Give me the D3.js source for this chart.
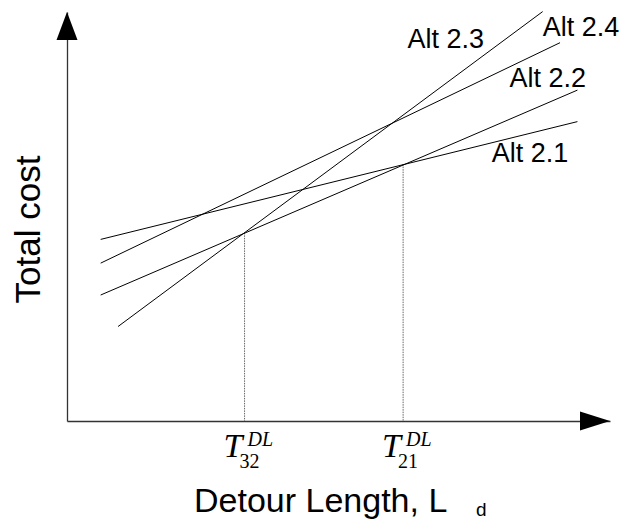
<!DOCTYPE html>
<html>
<head>
<meta charset="utf-8">
<script src="https://cdn.jsdelivr.net/npm/d3@7"></script>
<style>
  html, body { margin: 0; padding: 0; background: #fff; }
  svg { display: block; }
</style>
</head>
<body>
<svg id="chart" width="622" height="521"></svg>
<script>
// ---- data (abstract units: x = detour length, y = total cost, both 0-100) ----
const alternatives = ["Alt 2.1", "Alt 2.2", "Alt 2.3", "Alt 2.4"];
const startX = [6.2, 6.2, 9.4, 6.2];
const startY = [44.4, 30.8, 23.1, 38.6];
const endX   = [94.0, 94.0, 87.6, 90.8];
const endY   = [73.2, 80.9, 100.1, 92.5];

// label anchor (text start, baseline) in data units
const labelX = [78.2, 81.5, 62.7, 87.6];
const labelY = [63.4, 81.6, 91.3, 94.1];

// threshold points (intersections)
const thresholdNames = ["32", "21"];
const thresholdX = [32.7, 61.9];
const thresholdY = [46.0, 62.8];

const xTitle = "Detour Length, L";
const xTitleSub = "d";
const yTitle = "Total cost";

// ---- layout ----
const svg = d3.select("#chart");
const x = d3.scaleLinear().domain([0, 100]).range([67, 610]);
const y = d3.scaleLinear().domain([0, 100]).range([421, 12]);

// axes (no ticks)
svg.append("g")
  .attr("transform", `translate(0,${y(0)})`)
  .call(d3.axisBottom(x).tickValues([]).tickSizeOuter(0))
  .call(g => g.select(".domain").attr("stroke", "#333").attr("stroke-width", 1.3));
svg.append("g")
  .attr("transform", `translate(${x(0)},0)`)
  .call(d3.axisLeft(y).tickValues([]).tickSizeOuter(0))
  .call(g => g.select(".domain").attr("stroke", "#333").attr("stroke-width", 1.3));

// arrowheads
const x0 = x(0), y0 = y(0), xEnd = x(100), yEnd = y(100);
svg.append("path")
  .attr("d", `M${x0},${yEnd} L${x0 - 10.5},${yEnd + 28} L${x0 + 10.5},${yEnd + 28} Z`)
  .attr("fill", "#000");
svg.append("path")
  .attr("d", `M${xEnd},${y0} L${xEnd - 30},${y0 - 9.5} L${xEnd - 30},${y0 + 9.5} Z`)
  .attr("fill", "#000");

// threshold dotted lines
svg.append("g").selectAll("line")
  .data(thresholdX)
  .join("line")
  .attr("x1", d => x(d)).attr("x2", d => x(d))
  .attr("y1", (d, i) => y(thresholdY[i]))
  .attr("y2", y(0))
  .attr("stroke", "#666")
  .attr("stroke-width", 1)
  .attr("stroke-dasharray", "1.5,1");

// cost lines
const lineGen = d3.line().x(d => x(d[0])).y(d => y(d[1]));
svg.append("g").selectAll("path")
  .data(alternatives.map((a, i) => [[startX[i], startY[i]], [endX[i], endY[i]]]))
  .join("path")
  .attr("d", lineGen)
  .attr("fill", "none")
  .attr("stroke", "#000")
  .attr("stroke-width", 1);

// line labels
svg.append("g").selectAll("text")
  .data(alternatives)
  .join("text")
  .attr("x", (d, i) => x(labelX[i]))
  .attr("y", (d, i) => y(labelY[i]))
  .attr("font-family", "'Liberation Sans', Arial, sans-serif")
  .attr("font-size", 27)
  .attr("fill", "#000")
  .text(d => d);

// threshold labels T^{DL}_{ij}
const tl = svg.append("g").selectAll("g")
  .data(thresholdNames)
  .join("g")
  .attr("transform", (d, i) => `translate(${x(thresholdX[i]) - 21},0)`)
  .attr("font-family", "'Liberation Serif', 'Times New Roman', serif")
  .attr("font-style", "italic")
  .attr("fill", "#000");
tl.append("text").attr("x", 0).attr("y", 457).attr("font-size", 34).text("T");
tl.append("text").attr("x", 24).attr("y", 446).attr("font-size", 20).text("DL");
tl.append("text").attr("x", 16).attr("y", 468).attr("font-size", 20)
  .attr("font-style", "normal").text(d => d);

// axis titles
svg.append("text")
  .attr("x", 194).attr("y", 512)
  .attr("font-family", "'Liberation Sans', Arial, sans-serif")
  .attr("font-size", 34)
  .text(xTitle);
svg.append("text")
  .attr("x", 476).attr("y", 516)
  .attr("font-family", "'Liberation Sans', Arial, sans-serif")
  .attr("font-size", 19)
  .text(xTitleSub);
svg.append("text")
  .attr("transform", "translate(40,229.5) rotate(-90)")
  .attr("text-anchor", "middle")
  .attr("font-family", "'Liberation Sans', Arial, sans-serif")
  .attr("font-size", 35)
  .text(yTitle);
</script>
</body>
</html>
